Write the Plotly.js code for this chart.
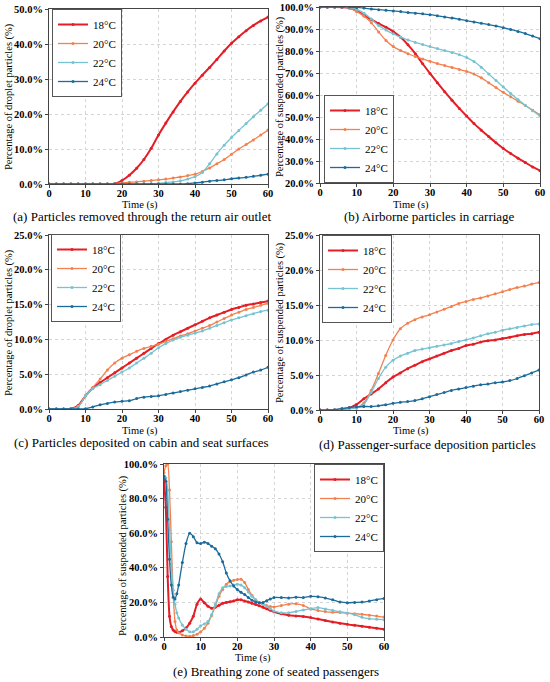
<!DOCTYPE html>
<html>
<head>
<meta charset="utf-8">
<script src="https://cdn.plot.ly/plotly-3.0.1.min.js"></script>
<style>html,body{margin:0;padding:0;background:#fff;}#chart{width:550px;height:682px;}</style>
</head>
<body>
<div id="chart"></div>
<script>
// ---------- data ----------
const seriesNames = ['18°C', '20°C', '22°C', '24°C'];

// time axis for panels (a)-(d), seconds
const timeAD = [0,2,4,6,8,10,12,14,16,18,20,22,24,26,28,30,32,34,36,38,40,42,44,46,48,50,52,54,56,58,60];

// (a) Particles removed through the return air outlet (%)
const a18 = [0,0,0,0,0,0,0,0,0,0.1,1.0,2.5,4.5,7.0,10.2,14.0,17.4,20.6,23.6,26.3,28.8,31.1,33.3,35.6,38.0,40.2,42.1,43.8,45.3,46.6,47.7];
const a20 = [0,0,0,0,0,0,0,0,0,0.1,0.3,0.5,0.6,0.8,1.0,1.2,1.4,1.7,2.0,2.4,2.8,3.6,4.6,5.8,7.0,8.5,10.0,11.3,12.6,14.0,15.4];
const a22 = [0,0,0,0,0,0,0,0,0,0,0,0,0,0.05,0.1,0.2,0.4,0.6,0.9,1.4,2.1,3.3,5.8,8.6,11.1,13.3,15.3,17.3,19.2,21.1,22.9];
const a24 = [0,0,0,0,0,0,0,0,0,0,0,0,0,0,0,0,0,0,0,0.1,0.3,0.5,0.8,1.0,1.2,1.5,1.7,1.9,2.2,2.5,2.8];

// (b) Airborne particles in carriage (%)
const b18 = [100,100,100,99.9,99.5,98.2,96.3,94.3,92.5,90.8,88.8,86.2,82.8,78.8,74.2,69.8,65.6,61.5,57.6,53.9,50.4,47.0,44.0,41.1,38.3,35.7,33.4,31.3,29.3,27.3,25.6];
const b20 = [100,100,100,100,99.6,98.0,95.8,92.8,88.6,84.8,82.0,80.2,78.8,77.5,76.4,75.3,74.3,73.4,72.5,71.6,70.7,69.5,67.8,65.6,63.4,61.2,59.2,57.2,55.2,53.1,51.0];
const b22 = [100,100,100,100,99.8,99.0,97.2,94.5,91.6,89.5,87.8,86.3,85.0,83.9,82.9,82.0,81.1,80.2,79.3,78.3,77.0,75.2,72.6,69.6,66.6,63.6,60.7,57.9,55.3,52.8,50.4];
const b24 = [100,100,100,100,100,99.8,99.5,99.1,98.8,98.5,98.2,97.9,97.5,97.2,96.9,96.5,96.0,95.5,95.0,94.4,93.8,93.2,92.6,92.0,91.4,90.6,89.8,88.9,87.9,86.8,85.6];

// (c) Particles deposited on cabin and seat surfaces (%)
const c18 = [0,0,0,0.05,0.5,1.9,3.0,3.8,4.5,5.2,5.9,6.6,7.3,8.0,8.7,9.4,10.0,10.6,11.1,11.6,12.1,12.6,13.1,13.5,13.9,14.3,14.6,14.9,15.1,15.3,15.5];
const c20 = [0,0,0,0,0.4,1.9,3.1,4.3,5.6,6.6,7.3,7.8,8.3,8.7,9.0,9.3,9.7,10.1,10.5,10.8,11.2,11.6,12.0,12.5,13.0,13.5,13.9,14.3,14.6,14.9,15.2];
const c22 = [0,0,0,0,0.3,1.9,2.9,3.5,4.1,4.7,5.3,5.9,6.6,7.3,8.0,8.8,9.4,9.9,10.3,10.6,10.9,11.2,11.6,12.0,12.4,12.8,13.1,13.4,13.7,14.0,14.2];
const c24 = [0,0,0,0,0,0.05,0.3,0.6,0.8,1.0,1.1,1.2,1.5,1.7,1.8,1.9,2.1,2.3,2.5,2.7,2.9,3.1,3.3,3.6,3.9,4.2,4.5,4.9,5.3,5.6,6.0];

// (d) Passenger-surface deposition particles (%)
const d18 = [0,0,0,0.1,0.3,0.8,1.6,2.3,3.0,3.9,4.7,5.3,5.9,6.4,6.9,7.3,7.7,8.1,8.5,8.8,9.2,9.4,9.7,9.9,10.0,10.2,10.4,10.6,10.8,10.9,11.1];
const d20 = [0,0,0,0.1,0.2,0.3,1.0,2.8,5.2,7.8,10.0,11.6,12.4,12.9,13.3,13.6,14.0,14.4,14.8,15.2,15.5,15.8,16.0,16.3,16.6,16.9,17.2,17.5,17.7,18.0,18.2];
const d22 = [0,0,0,0.1,0.2,0.3,0.8,2.5,4.5,6.1,7.1,7.7,8.1,8.5,8.7,8.9,9.1,9.3,9.5,9.8,10.0,10.3,10.6,10.9,11.1,11.4,11.6,11.8,12.0,12.2,12.3];
const d24 = [0,0,0.05,0.2,0.35,0.45,0.5,0.5,0.6,0.75,0.95,1.1,1.2,1.35,1.6,1.9,2.2,2.5,2.8,3.0,3.2,3.4,3.6,3.7,3.9,4.0,4.2,4.5,4.9,5.3,5.7];

// time axis for panel (e), seconds
const timeE = [0,0.5,1,1.5,2,2.5,3,3.5,4,5,6,7,8,9,10,11,12,13,14,15,16,17,18,19,20,21,22,23,24,25,26,27,28,29,30,32,34,36,38,40,42,44,46,48,50,52,54,56,58,60];

// (e) Breathing zone of seated passengers (%)
const e18 = [91,75,35,12,6,4,3.2,2.8,2.8,3.6,5.2,8,12,19,22,19.8,17.8,16.6,17.2,18.3,19.5,20,20.4,20.8,21.5,21.5,20.8,20.2,19.5,18.8,18,17.2,16.3,15.4,14.6,13.4,12.6,12.2,11.8,11.2,10.4,9.5,8.7,8,7.3,6.8,6.2,5.6,5,4.5];
const e20 = [95,99,100,85,55,25,9,4,2.5,1.2,0.6,0.4,0.8,1.6,3,5,8,12.5,18,23.5,27.5,30.5,32,32.8,33.2,33.4,31.5,27.5,24,21.5,20,19,18.2,17.6,17.4,18.2,19,19.2,18.2,16.2,15.3,14.7,14.3,14.1,13.8,13.5,13.1,12.6,12.1,11.5];
const e22 = [93,92,85,62,42,27,19,14,11,7,4.5,3,3,4.5,6.5,7.5,9,13,19,25,28.5,29.2,29.5,30,30.5,30,28.5,26,23.5,21.5,20,19,17.8,16.3,15,14,14,14.8,15.6,16.4,17,16.2,15.4,14.6,13.9,12.8,11.4,10.6,10.3,10];
const e24 = [93,90,68,45,30,23,22,25,30,43,54,60,58,54.5,54,54.8,54,52.5,51,48,43.5,37,32.5,29.5,27.5,25.8,24.5,22.8,21.3,20.3,19.8,20,21,22,22.8,22.8,22.6,23,22.8,23.5,23.3,22.5,21.5,20.3,19.8,20,20.2,20.8,21.6,22.3];

const xTicks = [0,10,20,30,40,50,60];

// ---------- styling ----------
const colors = ['#E41E26', '#F4804F', '#76C3D1', '#1B6B9B'];
const widths = [2, 1.3, 1.3, 1.3];
const SERIF = 'Liberation Serif';

const panels = [
  {t: timeAD, ys: [a18,a20,a22,a24], smooth: 1},
  {t: timeAD, ys: [b18,b20,b22,b24], smooth: 1},
  {t: timeAD, ys: [c18,c20,c22,c24], smooth: 1},
  {t: timeAD, ys: [d18,d20,d22,d24], smooth: 1},
  {t: timeE,  ys: [e18,e20,e22,e24], smooth: 0.6}
];

const traces = [];
panels.forEach((p, pi) => {
  const sfx = pi === 0 ? '' : String(pi + 1);
  p.ys.forEach((y, si) => {
    traces.push({
      type: 'scatter', mode: 'lines+markers',
      x: p.t, y: y, name: seriesNames[si],
      xaxis: 'x' + sfx, yaxis: 'y' + sfx,
      legend: 'legend' + sfx,
      line: {color: colors[si], width: widths[si], shape: 'spline', smoothing: p.smooth},
      marker: {color: colors[si], size: 3},
      hoverinfo: 'x+y+name'
    });
  });
});

function px(x) { return x / 550; }
function py(y) { return 1 - y / 682; }

const tickFont = {family: SERIF, size: 10.5, color: '#000', weight: 700};

function xAx(l, r, anchor) {
  return {
    domain: [px(l), px(r)], anchor: anchor, range: [0, 60],
    tickvals: xTicks, ticks: 'outside', ticklen: 3, tickcolor: '#444',
    ticklabelstandoff: -4,
    showline: true, linecolor: '#444', linewidth: 1, mirror: true,
    showgrid: true, gridcolor: '#d4d4d4', griddash: 'dot', gridwidth: 1,
    zeroline: false,
    tickfont: tickFont
  };
}
function yAx(b, t, anchor, range, dtick) {
  return {
    domain: [py(b), py(t)], anchor: anchor, range: range, dtick: dtick, tick0: 0,
    ticks: 'outside', ticklen: 3, tickcolor: '#444',
    tickformat: '.1f', ticksuffix: '%',
    showline: true, linecolor: '#444', linewidth: 1, mirror: true,
    showgrid: true, gridcolor: '#d4d4d4', griddash: 'dot', gridwidth: 1,
    zeroline: false,
    tickfont: tickFont
  };
}
function leg(x, y, xa, ya) {
  return {
    x: px(x), y: py(y), xanchor: xa, yanchor: ya, xref: 'paper', yref: 'paper',
    bgcolor: '#fff', bordercolor: '#555', borderwidth: 1,
    font: {family: SERIF, size: 11, color: '#000'},
    tracegroupgap: 0, itemwidth: 30
  };
}

const annotations = [];
function txt(text, x, y, size, angle) {
  annotations.push({
    text: text, x: px(x), y: py(y), xref: 'paper', yref: 'paper',
    showarrow: false, xanchor: 'center', yanchor: 'middle',
    textangle: angle || 0,
    font: {family: SERIF, size: size, color: '#000'}
  });
}
// captions
txt('(a) Particles removed through the return air outlet', 142, 217, 13);
txt('(b) Airborne particles in carriage', 429, 217, 13);
txt('(c) Particles deposited on cabin and seat surfaces', 141, 442, 13);
txt('(d) Passenger-surface deposition particles', 427, 444, 13);
txt('(e) Breathing zone of seated passengers', 276, 671, 13);
// x titles
txt('Time (s)', 140, 205, 10.5);
txt('Time (s)', 411, 205, 10.5);
txt('Time (s)', 140, 430.5, 10.5);
txt('Time (s)', 411, 430.5, 10.5);
txt('Time (s)', 253, 658, 10.5);
// y titles
txt('Percentage of droplet particles (%)', 9, 97, 10.5, -90);
txt('Percentage of suspended particles (%)', 280, 96, 10.5, -90);
txt('Percentage of droplet particles (%)', 9, 323, 10.5, -90);
txt('Percentage of suspended particles (%)', 280, 322, 10.5, -90);
txt('Percentage of suspended particles (%)', 123, 556, 10.5, -90);

const layout = {
  width: 550, height: 682,
  margin: {l: 0, r: 0, t: 0, b: 0},
  paper_bgcolor: '#fff', plot_bgcolor: '#fff',
  font: {family: SERIF, color: '#000'},
  xaxis:  xAx(49, 268, 'y'),
  yaxis:  yAx(184, 9, 'x', [0, 50], 10),
  xaxis2: xAx(320, 540, 'y2'),
  yaxis2: yAx(183, 7, 'x2', [20, 100], 10),
  xaxis3: xAx(49, 268, 'y3'),
  yaxis3: yAx(409, 235, 'x3', [0, 25], 5),
  xaxis4: xAx(320, 539, 'y4'),
  yaxis4: yAx(410, 235, 'x4', [0, 25], 5),
  xaxis5: xAx(164, 384, 'y5'),
  yaxis5: yAx(637, 464, 'x5', [0, 100], 20),
  legend:  leg(52, 9, 'left', 'top'),
  legend2: leg(324, 183, 'left', 'bottom'),
  legend3: leg(51, 234, 'left', 'top'),
  legend4: leg(322, 235, 'left', 'top'),
  legend5: leg(384, 464, 'right', 'top'),
  showlegend: true,
  annotations: annotations
};

Plotly.newPlot('chart', traces, layout, {displayModeBar: false, staticPlot: true});
</script>
</body>
</html>
